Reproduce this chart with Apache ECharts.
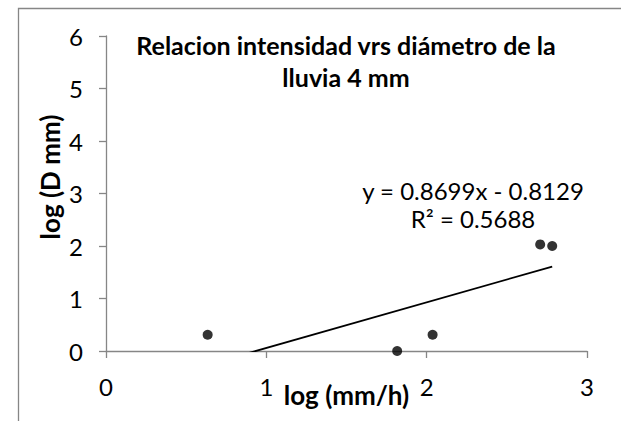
<!DOCTYPE html>
<html>
<head>
<meta charset="utf-8">
<script src="https://cdn.jsdelivr.net/npm/echarts@6/dist/echarts.min.js"></script>
<style>
html,body{margin:0;padding:0;background:#fff;}
#chart{width:621px;height:421px;}
</style>
</head>
<body>
<div id="chart"></div>
<script>
// Data
const logIntensity = [0.634, 1.816, 2.037, 2.708, 2.783];
const logDiameter = [0.31, 0.0, 0.31, 2.03, 2.00];
const xTicks = [0, 1, 2, 3];
const yTicks = [0, 1, 2, 3, 4, 5, 6];
const trendSlope = 0.8699;
const trendIntercept = -0.8129;
const trendR2 = 0.5688;
const titleLines = ['Relacion intensidad vrs diámetro de la', 'lluvia 4 mm'];
const xName = 'log (mm/h)';
const yName = 'log (D mm)';

const points = logIntensity.map((x, i) => [x, logDiameter[i]]);
const xMinData = Math.min(...logIntensity);
const xMaxData = Math.max(...logIntensity);
const trendLine = [xMinData, xMaxData].map(x => [x, trendSlope * x + trendIntercept]);

const FONT = 'Lato';
const AXIS_GRAY = '#868686';

const chart = echarts.init(document.getElementById('chart'), null, {renderer: 'svg'});
chart.setOption({
  animation: false,
  backgroundColor: '#fff',
  title: {
    text: titleLines.join('\n'),
    left: 341,
    top: 24,
    textAlign: 'center',
    textStyle: {fontFamily: FONT, fontWeight: 'bold', fontSize: 25, lineHeight: 32, color: '#000'}
  },
  grid: {left: 106, right: 34, top: 36, bottom: 70, outerBoundsMode: 'none', containLabel: false},
  xAxis: {
    type: 'value', min: xTicks[0], max: xTicks[xTicks.length - 1], interval: 1,
    name: xName, nameLocation: 'middle', nameGap: 31, nameMoveOverlap: false,
    nameTextStyle: {fontFamily: FONT, fontWeight: 'bold', fontSize: 26, color: '#000'},
    axisLine: {show: true, onZero: false, lineStyle: {color: AXIS_GRAY, width: 1.3}},
    axisTick: {show: true, length: 7, lineStyle: {color: AXIS_GRAY, width: 1.3}},
    axisLabel: {fontFamily: FONT, fontSize: 24, color: '#000', margin: 23},
    splitLine: {show: false}
  },
  yAxis: {
    type: 'value', min: yTicks[0], max: yTicks[yTicks.length - 1], interval: 1,
    axisLine: {show: true, onZero: false, lineStyle: {color: AXIS_GRAY, width: 1.3}},
    axisTick: {show: true, length: 7, lineStyle: {color: AXIS_GRAY, width: 1.3}},
    axisLabel: {fontFamily: FONT, fontSize: 24, color: '#000', margin: 23},
    splitLine: {show: false}
  },
  graphic: [
    {type: 'rect', shape: {x: 18.5, y: 8.5, width: 800, height: 600}, style: {fill: null, stroke: AXIS_GRAY, lineWidth: 1.3}, silent: true},
    {type: 'text', x: 50, y: 177, rotation: Math.PI / 2,
     style: {text: yName, fontFamily: FONT, fontWeight: 'bold', fontSize: 26, fill: '#000', align: 'center', verticalAlign: 'middle'}},
    {type: 'text', x: 473, y: 204,
     style: {text: 'y = ' + trendSlope + 'x - ' + Math.abs(trendIntercept) + '\nR² = ' + trendR2,
             fontFamily: FONT, fontSize: 24, lineHeight: 28, fill: '#000', align: 'center', verticalAlign: 'middle'}}
  ],
  series: [
    {type: 'line', data: trendLine, symbol: 'none', clip: true,
     lineStyle: {color: '#000', width: 1.8}, z: 2},
    {type: 'scatter', data: points, symbol: 'circle', symbolSize: 10, clip: false,
     itemStyle: {color: '#000'}, z: 3}
  ]
});
</script>
</body>
</html>
